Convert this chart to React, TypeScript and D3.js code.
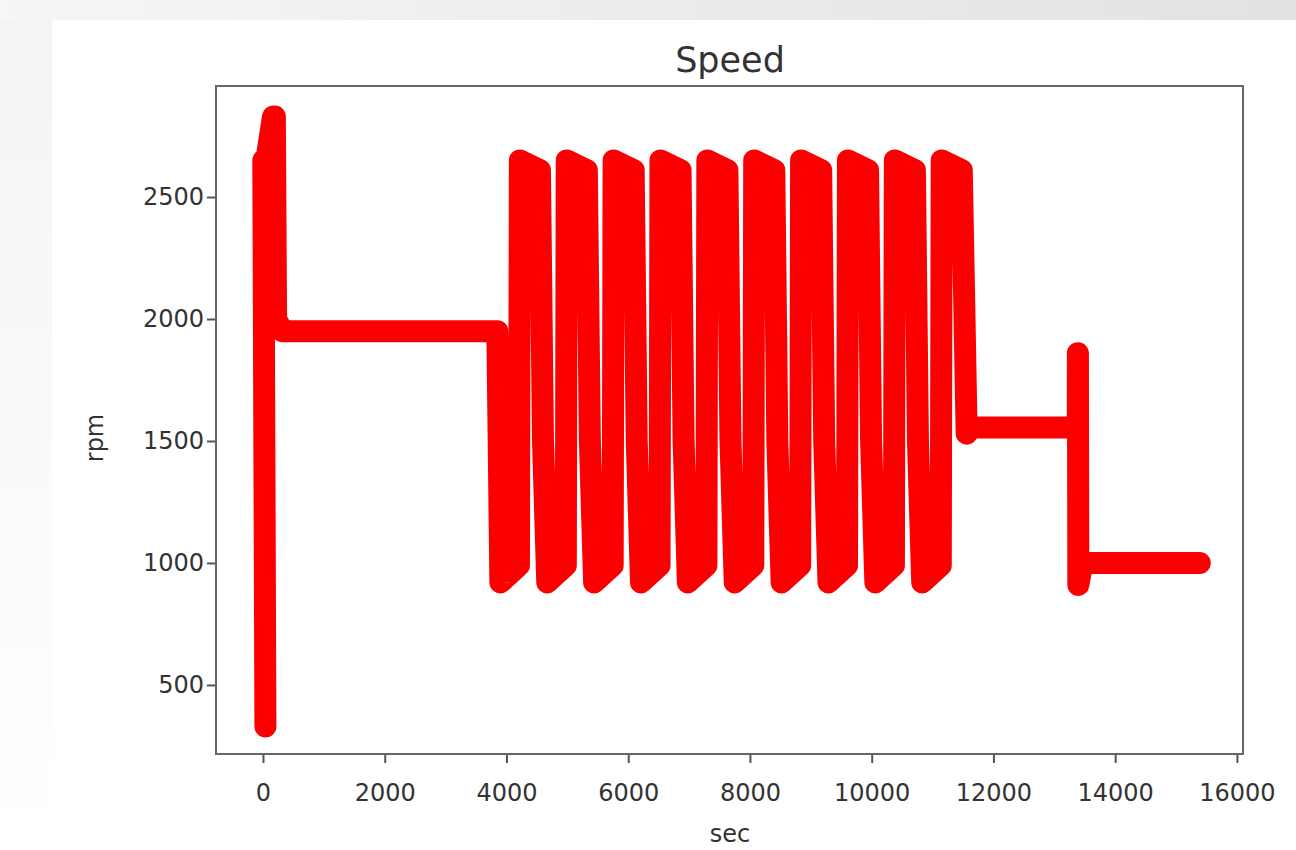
import React, { useEffect, useRef } from "react"
import * as d3 from "d3"

// speed trace (sec, rpm)
const seconds = [
  40, 5, 60, 165, 195, 215, 320, 3850, 3900,
  4205, 4220, 4550, 4600, 4670,
  4975, 4990, 5320, 5370, 5440,
  5745, 5760, 6090, 6140, 6210,
  6515, 6530, 6860, 6910, 6980,
  7285, 7300, 7630, 7680, 7750,
  8055, 8070, 8400, 8450, 8520,
  8825, 8840, 9170, 9220, 9290,
  9595, 9610, 9940, 9990, 10060,
  10365, 10380, 10710, 10760, 10830,
  11135, 11150, 11480, 11560, 11640,
  13250, 13385, 13388, 13395, 13460, 15390,
]
const rpm = [
  330, 2650, 2660, 2830, 2830, 2000, 1950, 1950, 920,
  990, 2650, 2610, 1500, 920,
  990, 2650, 2610, 1500, 920,
  990, 2650, 2610, 1500, 920,
  990, 2650, 2610, 1500, 920,
  990, 2650, 2610, 1500, 920,
  990, 2650, 2610, 1500, 920,
  990, 2650, 2610, 1500, 920,
  990, 2650, 2610, 1500, 920,
  990, 2650, 2610, 1500, 920,
  990, 2650, 2610, 1530, 1555,
  1555, 1550, 1860, 910, 1000, 1000,
]
const xTicks = [0, 2000, 4000, 6000, 8000, 10000, 12000, 14000, 16000]
const yTicks = [500, 1000, 1500, 2000, 2500]

const W = 1296
const H = 850

export default function App() {
  const ref = useRef<SVGSVGElement>(null)

  useEffect(() => {
    const svg = d3.select(ref.current)
    svg.selectAll("*").remove()

    const defs = svg.append("defs")
    const bg = defs.append("linearGradient").attr("id", "bg").attr("x1", 0).attr("x2", 1).attr("y1", 0).attr("y2", 0)
    bg.append("stop").attr("offset", "0%").attr("stop-color", "#f6f6f6")
    bg.append("stop").attr("offset", "100%").attr("stop-color", "#e2e2e2")
    const side = defs.append("linearGradient").attr("id", "side").attr("x1", 0).attr("x2", 0).attr("y1", 0).attr("y2", 1)
    side.append("stop").attr("offset", "0%").attr("stop-color", "#f4f4f4")
    side.append("stop").attr("offset", "100%").attr("stop-color", "#ffffff")

    svg.append("rect").attr("width", W).attr("height", H).attr("fill", "url(#bg)")
    svg.append("rect").attr("y", 20).attr("width", 52).attr("height", H - 20).attr("fill", "url(#side)")
    svg.append("rect").attr("x", 52).attr("y", 20).attr("width", W - 52).attr("height", H - 20).attr("fill", "#fff")

    const left = 216, right = 1243, top = 86, bottom = 754

    const x = d3.scaleLinear().domain([-772, 16100]).range([left, right])
    const y = d3.scaleLinear().domain([217, 2955]).range([bottom, top])

    const line = d3.line<number>()
      .x((d, i) => x(seconds[i]))
      .y(d => y(d))

    svg.append("path")
      .datum(rpm)
      .attr("d", line)
      .attr("fill", "none")
      .attr("stroke", "#fb0000")
      .attr("stroke-width", 22)
      .attr("stroke-linejoin", "round")
      .attr("stroke-linecap", "round")

    const font = "DejaVu Sans, sans-serif"

    const xAxis = svg.append("g")
      .attr("transform", "translate(0," + bottom + ")")
      .call(d3.axisBottom(x).tickValues(xTicks).tickSize(9).tickPadding(21).tickFormat(d3.format("d")))
    const yAxis = svg.append("g")
      .attr("transform", "translate(" + left + ",0)")
      .call(d3.axisLeft(y).tickValues(yTicks).tickSize(9).tickPadding(3).tickFormat(d3.format("d")))

    for (const g of [xAxis, yAxis]) {
      g.select(".domain").remove()
      g.selectAll("line").attr("stroke", "#555").attr("stroke-width", 2)
      g.selectAll("text")
        .style("font-family", font)
        .style("font-size", "24px")
        .attr("fill", "#333")
    }

    // frame
    svg.append("rect")
      .attr("x", left).attr("y", top)
      .attr("width", right - left).attr("height", bottom - top)
      .attr("fill", "none")
      .attr("stroke", "#666")
      .attr("stroke-width", 2)

    svg.append("text")
      .attr("x", 730).attr("y", 72)
      .attr("text-anchor", "middle")
      .style("font-family", font).style("font-size", "35px")
      .attr("fill", "#333")
      .text("Speed")

    svg.append("text")
      .attr("x", 730).attr("y", 842)
      .attr("text-anchor", "middle")
      .style("font-family", font).style("font-size", "24px")
      .attr("fill", "#333")
      .text("sec")

    svg.append("text")
      .attr("transform", "translate(103,438) rotate(-90)")
      .attr("text-anchor", "middle")
      .style("font-family", font).style("font-size", "24px")
      .attr("fill", "#333")
      .text("rpm")
  }, [])

  return (
    <div style={{ position: "fixed", left: 0, top: 0 }}>
      <svg ref={ref} width={W} height={H} style={{ display: "block" }} />
    </div>
  )
}
